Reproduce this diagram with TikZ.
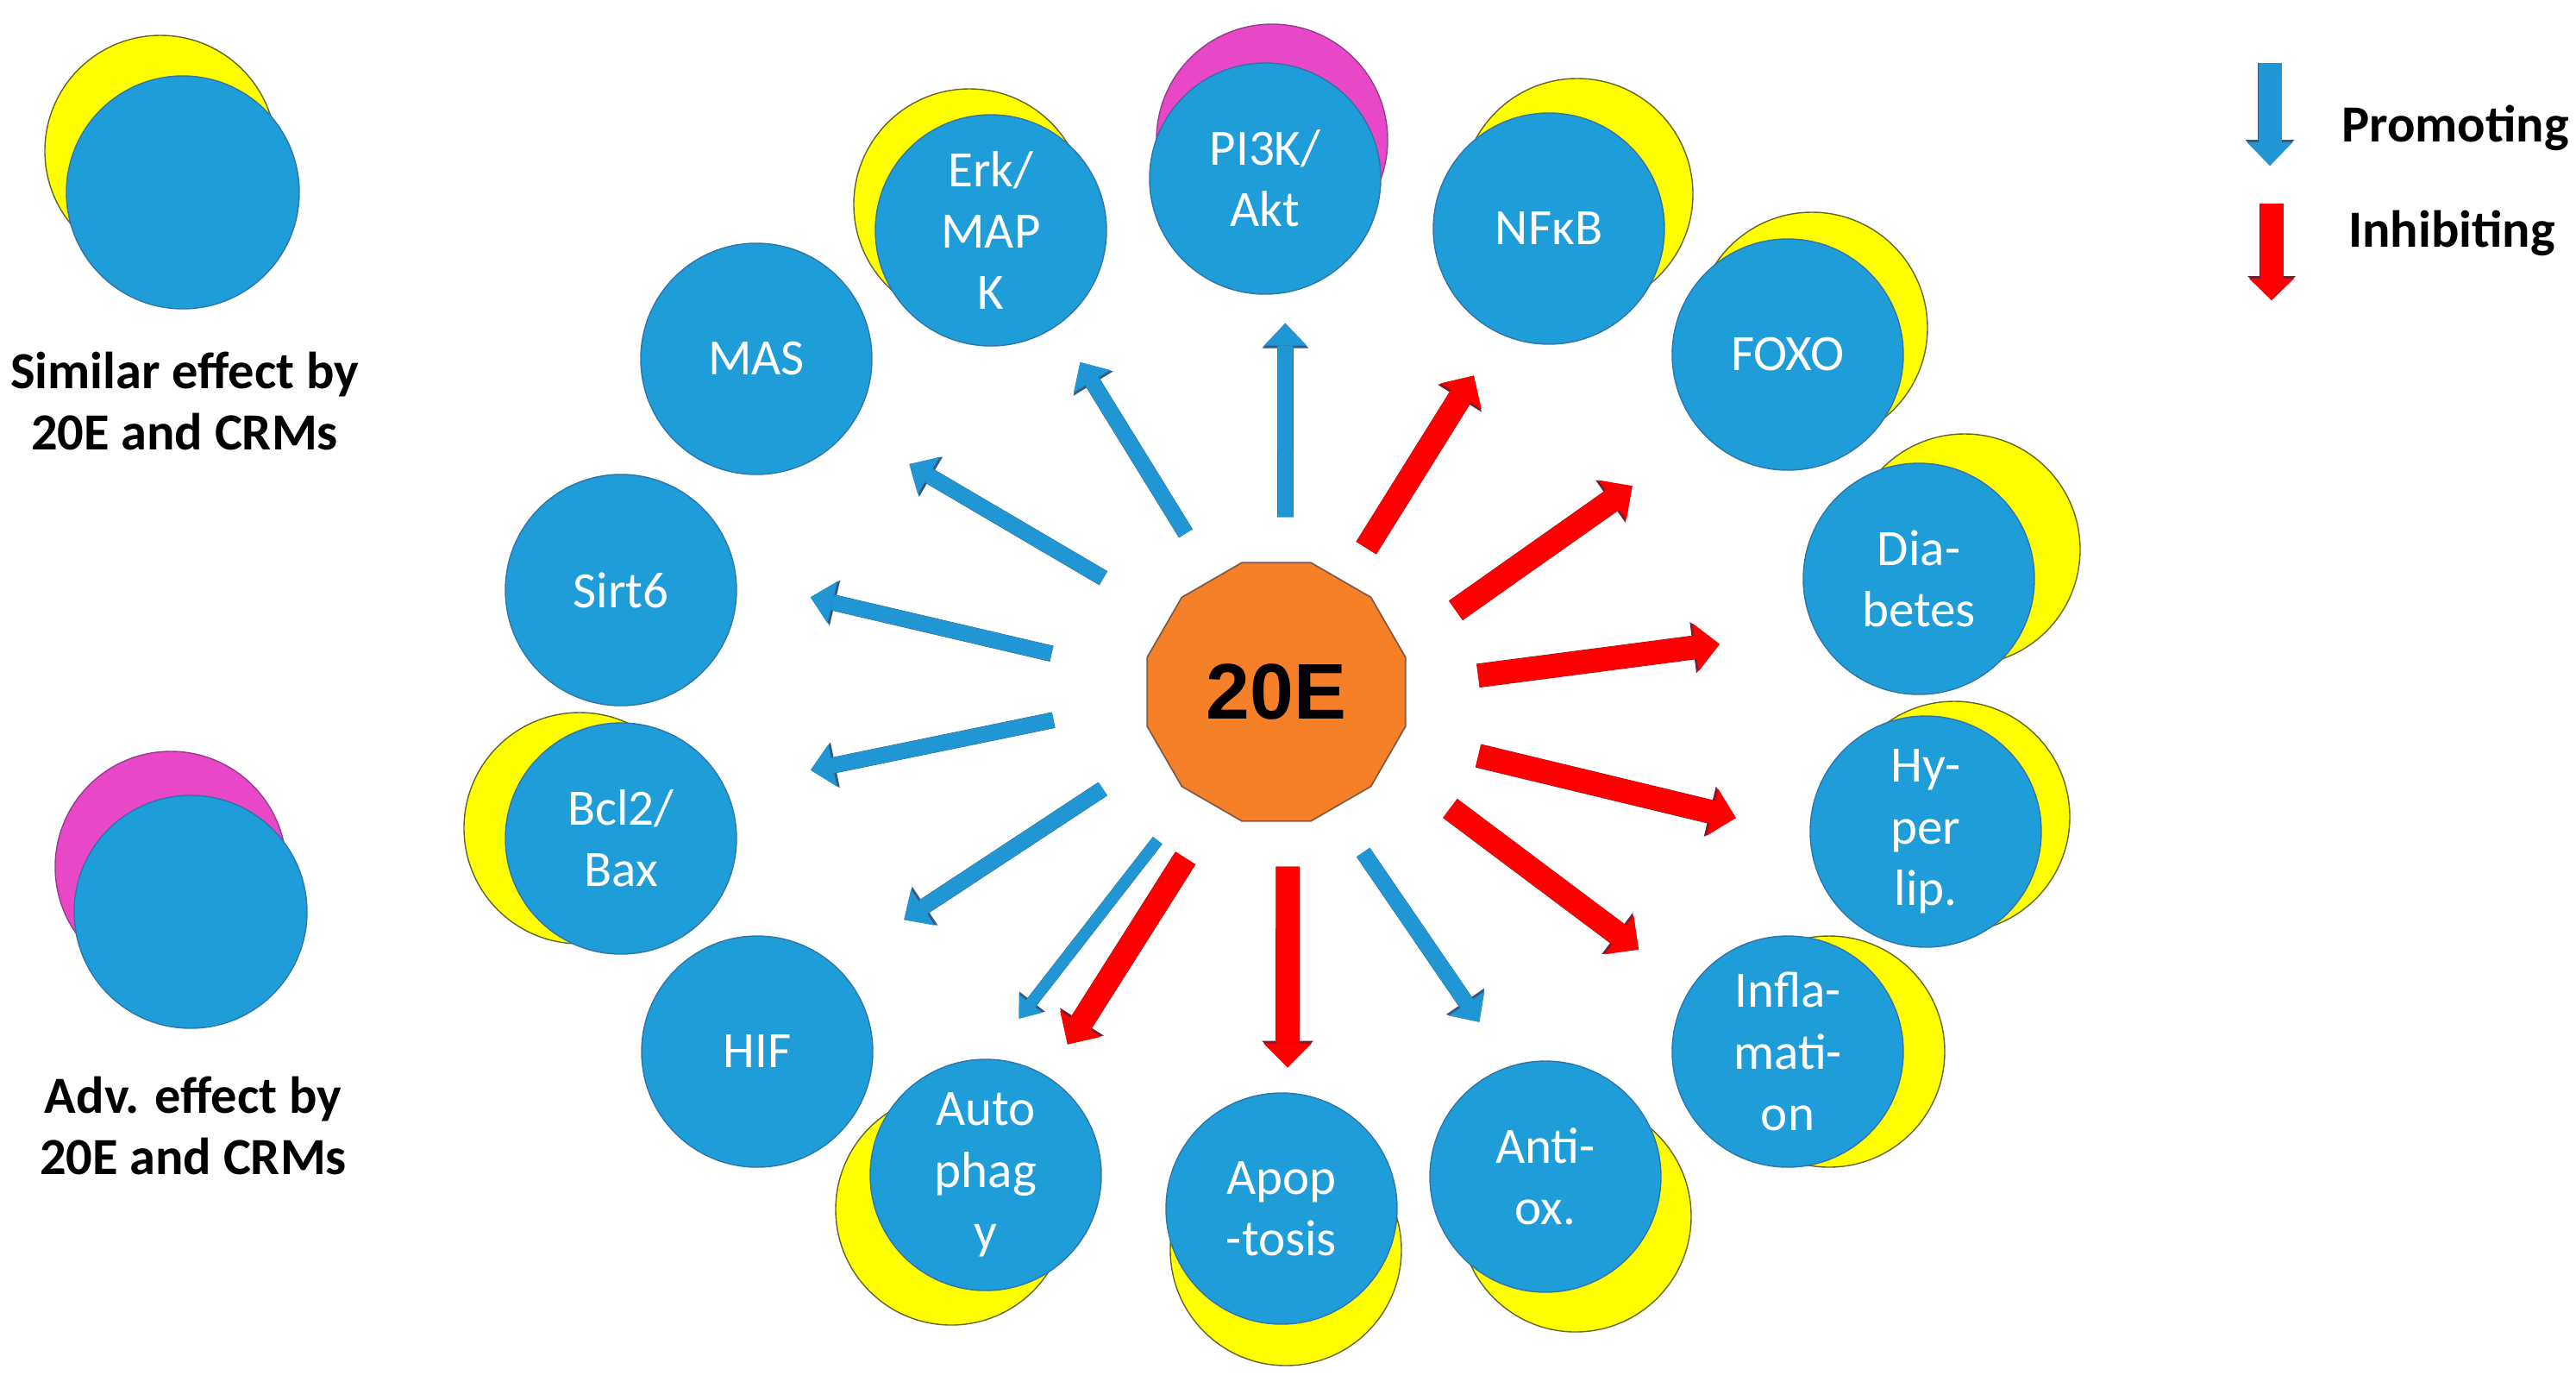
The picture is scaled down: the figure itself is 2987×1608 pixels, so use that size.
\documentclass[tikz,border=0pt]{standalone}
\usepackage{fontspec}
\setmainfont{Carlito}
\newfontfamily\hubfont{Liberation Sans}
\usepackage{tikz}
\usetikzlibrary{shapes.geometric,arrows.meta}
\usepackage{xcolor}
\definecolor{facblue}{RGB}{31,157,216}
\definecolor{facedge}{RGB}{46,117,170}
\definecolor{simyel}{RGB}{255,255,0}
\definecolor{yeledge}{RGB}{100,100,40}
\definecolor{advmag}{RGB}{232,72,200}
\definecolor{magedge}{RGB}{150,60,140}
\definecolor{hubor}{RGB}{246,128,40}
\definecolor{hubedge}{RGB}{130,90,70}
\definecolor{inhred}{RGB}{255,0,0}
\definecolor{inhedge}{RGB}{120,30,50}
\definecolor{problue}{RGB}{33,150,212}
\definecolor{proedge}{RGB}{50,90,130}

\begin{document}
\begin{tikzpicture}[x=0.1mm,y=-0.1mm]
	\tikzstyle{factor} = [circle, minimum size=26.8mm, inner sep=0pt, fill=facblue, draw=facedge, line width=0.4pt, text=white, align=center, font=\fontsize{16.8}{20.3}\selectfont]
	\tikzstyle{similar} = [circle, minimum size=26.8mm, fill=simyel, draw=yeledge, line width=0.4pt]
	\tikzstyle{adverse} = [circle, minimum size=26.8mm, fill=advmag, draw=magedge, line width=0.4pt]
	\tikzstyle{legtext} = [align=center, inner sep=0pt, font=\bfseries\fontsize{17.2}{20}\selectfont]
	\tikzstyle{promote} = [draw=problue, line width=1.8mm, -{Triangle[width=5mm,length=2.6mm,line width=0pt]}, preaction={draw=proedge, line width=1.88mm, -{Triangle[width=5.4mm,length=2.9mm,line width=0pt]}}]
	\tikzstyle{promthin} = [draw=problue, line width=1.3mm, -{Triangle[width=3.4mm,length=2.2mm,line width=0pt]}, preaction={draw=proedge, line width=1.38mm, -{Triangle[width=3.8mm,length=2.5mm,line width=0pt]}}]
	\tikzstyle{inhibit} = [draw=inhred, line width=2.7mm, -{Triangle[width=5.6mm,length=2.8mm,line width=0pt]}, preaction={draw=inhedge, line width=2.78mm, -{Triangle[width=6mm,length=3.1mm,line width=0pt]}}]
	\tikzstyle{keypro} = [draw=problue, line width=2.7mm, -{Triangle[width=5.3mm,length=2.7mm,line width=0pt]}, preaction={draw=proedge, line width=2.78mm, -{Triangle[width=5.7mm,length=3mm,line width=0pt]}}]
	\tikzstyle{keyinh} = [draw=inhred, line width=2.7mm, -{Triangle[width=5.2mm,length=2.5mm,line width=0pt]}, preaction={draw=inhedge, line width=2.78mm, -{Triangle[width=5.6mm,length=2.8mm,line width=0pt]}}]
  \useasboundingbox (0,0) rectangle (2987,1608);

  \node(simback)[similar] at (186,175) {};
  \node(simkey)[factor, minimum size=27mm] at (212,223) {};
  \node(simtext)[legtext] at (214,465) {Similar effect by\\20E and CRMs};
  \node(advback)[adverse] at (198,1005) {};
  \node(advkey)[factor, minimum size=27mm] at (221,1057) {};
  \node(advtext)[legtext] at (224,1305) {Adv. effect by\\20E and CRMs};

  \node(pikback)[adverse] at (1475,162) {};
  \node(erkback)[similar] at (1124,237) {};
  \node(nfkbback)[similar] at (1829,225) {};
  \node(foxoback)[similar] at (2101,380) {};
  \node(diabback)[similar] at (2278,637) {};
  \node(bclback)[similar] at (672,960) {};
  \node(hyperback)[similar] at (2266,947) {};
  \node(inflback)[similar] at (2121,1219) {};
  \node(autoback)[similar] at (1103,1402) {};
  \node(apopback)[similar] at (1491,1449) {};
  \node(antiback)[similar] at (1827,1410) {};

  \node(pik)[factor] at (1467,207) {PI3K/\\Akt};
  \node(erk)[factor] at (1149,267) {Erk/\\MAP\\K};
  \node(nfkb)[factor] at (1796,265) {NFκB};
  \node(mas)[factor] at (877,416) {MAS};
  \node(foxo)[factor] at (2073,411) {FOXO};
  \node(sirt)[factor] at (720,684) {Sirt6};
  \node(diab)[factor] at (2225,671) {Dia-\\betes};
  \node(bcl)[factor] at (720,972) {Bcl2/\\Bax};
  \node(hyper)[factor] at (2233,964) {Hy-\\per\\lip.};
  \node(hif)[factor] at (878,1219) {HIF};
  \node(infl)[factor] at (2073,1219) {Infla-\\mati-\\on};
  \node(auto)[factor] at (1143,1362) {Auto\\phag\\y};
  \node(apop)[factor] at (1486,1401) {Apop\\-tosis};
  \node(anti)[factor] at (1792,1364) {Anti-\\ox.};

  \node(hub)[regular polygon, regular polygon sides=12, minimum size=31mm, inner sep=0pt, fill=hubor, draw=hubedge, line width=0.5pt, font=\hubfont\bfseries\fontsize{26}{30}\selectfont] at (1480,802) {20E};

  \coordinate(protop) at (2632,73);
  \coordinate(probot) at (2632,192);
  \coordinate(inhtop) at (2634,236);
  \coordinate(inhbot) at (2634,348);
  \node(protext)[legtext] at (2847,148) {Promoting};
  \node(inhtext)[legtext] at (2843,270) {Inhibiting};

  \draw [keypro] (protop) -- (probot);
  \draw [keyinh] (inhtop) -- (inhbot);

  \draw [promote, shorten <=5.2mm, shorten >=3.5mm] (hub.86) -- (pik.-80);
  \draw [promote, shorten <=6.1mm, shorten >=5mm] (hub.119) -- (erk.-55);
  \draw [promote, shorten <=8.9mm, shorten >=8.1mm] (hub.145) -- (mas.-37);
  \draw [promote, shorten <=11.3mm, shorten >=8.8mm] (hub.173) -- (sirt.5);
  \draw [promote, shorten <=11mm, shorten >=10.1mm] (hub.184) -- (bcl.26);
  \draw [promote, shorten <=8mm, shorten >=9.6mm] (hub.207) -- (hif.48);
  \draw [promthin, shorten <=6.8mm, shorten >=5.9mm] (hub.231) -- (auto.89);
  \draw [inhibit, shorten <=6.9mm, shorten >=4.4mm] (hub.243) -- (auto.58);
  \draw [inhibit, shorten <=5.2mm, shorten >=2.9mm] (hub.275) -- (apop.87);
  \draw [promote, shorten <=6.1mm, shorten >=6.2mm] (hub.296) -- (anti.108);
  \draw [inhibit, shorten <=4.6mm, shorten >=5.7mm] (hub.58) -- (nfkb.245);
  \draw [inhibit, shorten <=7.7mm, shorten >=10.2mm] (hub.19) -- (foxo.224);
  \draw [inhibit, shorten <=8.4mm, shorten >=11.2mm] (hub.3) -- (diab.207);
  \draw [inhibit, shorten <=9.3mm, shorten >=8.8mm] (hub.-20) -- (hyper.182);
  \draw [inhibit, shorten <=9.2mm, shorten >=7.5mm] (hub.-32) -- (infl.147);
\end{tikzpicture}
\end{document}
